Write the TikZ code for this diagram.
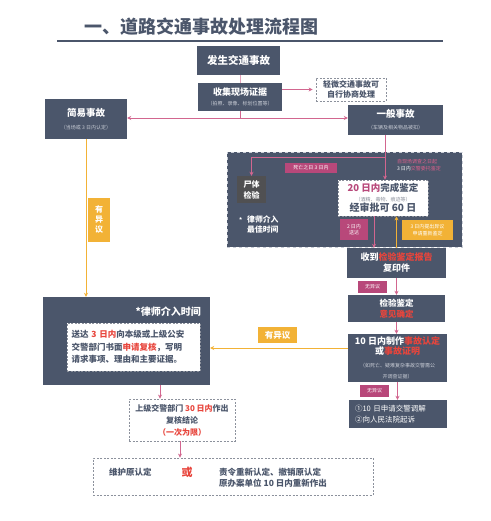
\documentclass[tikz,border=0pt]{standalone}
\usepackage{fontspec}
\setmainfont{Noto Sans CJK SC}
\usetikzlibrary{arrows.meta}
\definecolor{slate}{HTML}{4B566B}
\definecolor{pline}{HTML}{D2668F}
\definecolor{plab}{HTML}{B8487A}
\definecolor{redt}{HTML}{E8453C}
\definecolor{yel}{HTML}{F2B236}
\definecolor{dgray}{HTML}{505052}
\definecolor{dashc}{HTML}{8C919C}
\definecolor{ptxt}{HTML}{E0608C}
\definecolor{subc}{HTML}{C9CDD6}
\newcommand\myfs[2]{\fontsize{#1}{#2}\selectfont}
\newcommand\subl[1]{{\myfs{5}{6}\mdseries\color{subc}#1}}
\tikzset{
  box/.style={fill=slate, text=white, inner sep=0pt, align=center},
  wbox/.style={draw=dashc, dash pattern=on 2pt off 1.5pt, line width=0.8pt, fill=white, text=slate, inner sep=0pt, align=center},
  plabel/.style={fill=plab, text=white, inner sep=0pt, align=center, font=\myfs{5}{6.5}},
  ylabel/.style={fill=yel, text=white, inner sep=0pt, align=center},
  pcon/.style={draw=pline, line width=0.9pt, -{Stealth[length=4pt,width=4pt]}},
  ycon/.style={draw=yel, line width=0.9pt, -{Stealth[length=4pt,width=4pt]}},
}
\begin{document}
\begin{tikzpicture}[x=1pt,y=-1pt]
\useasboundingbox (0,0) rectangle (490,521);
% title
\node[text=slate, font=\myfs{18}{20}\bfseries] (title) at (201.5,27) {一、道路交通事故处理流程图};
\draw[slate, line width=2.5pt] (57,41) -- (443,41);

% top boxes
\node[box, font=\myfs{10.5}{12}\bfseries, minimum width=83pt, minimum height=29pt] (fasheng) at (238.5,60.5) {发生交通事故};
\node[box, font=\myfs{9}{11}\bfseries, minimum width=84pt, minimum height=28pt] (shouji) at (240,97) {收集现场证据\\[-1pt]\subl{（拍照、录像、标划位置等）}};
\node[wbox, font=\myfs{8}{10}\bfseries, minimum width=70pt, minimum height=23pt] (qingwei) at (351,89.5) {轻微交通事故可\\自行协商处理};
\node[box, font=\myfs{9.5}{12}\bfseries, minimum width=82pt, minimum height=40pt] (jianyi) at (86,119) {简易事故\\[1pt]\subl{（当场或 3 日内认定）}};
\node[box, font=\myfs{9.5}{12}\bfseries, minimum width=95pt, minimum height=30pt] (yiban) at (395.5,120) {一般事故\\[0pt]\subl{（车辆及相关物品被扣）}};

\draw[draw=pline!60, line width=0.9pt] (shouji.north) -- (shouji.north |- fasheng.south);
\coordinate (split) at (240,118);
\draw[draw=pline, line width=0.9pt] (shouji.south) -- (split);
\draw[pcon] (split) -- (split -| jianyi.east);
\draw[pcon] (split) -- (split -| yiban.west);
\draw[pcon, shorten >=3pt] (shouji.east |- qingwei) -- (qingwei.west);

% panel
\node[fill=slate, draw=subc, dashed, line width=0.6pt, minimum width=235pt, minimum height=95pt, inner sep=0pt] (panel) at (344.5,199.5) {};
\coordinate (ybtop) at (385,135);
\coordinate (s2) at (385,157);
\node[fill=dgray, text=white, font=\myfs{8}{11}\bfseries, align=center, minimum width=29pt, minimum height=27pt, inner sep=0pt] (shiti) at (251.5,189.5) {尸体\\检验};
\node[plabel, minimum width=52pt, minimum height=10pt] (death) at (311,168) {死亡之日 3 日内};
\node[text=white, font=\myfs{7.8}{9.5}\bfseries, align=left, inner sep=0pt, anchor=west] (besttime) at (239,224.5) {\makebox[8pt][l]{\myfs{6}{7}*}律师介入\\\hspace*{8pt}最佳时间};
\node[text=ptxt, font=\myfs{5}{7}, align=left, inner sep=0pt] (zixian) at (419,165.5) {自现场调查之日起\\{\color{white}3 日内}交警委托鉴定};
\node[wbox, font=\myfs{9.5}{11}\bfseries, minimum width=90pt, minimum height=36pt] (jianding) at (383,198) {{\color{plab}20 日内}完成鉴定\\[-1pt]{\myfs{5}{6}\mdseries\color{dashc}（酒精、毒物、痕迹等）}\\[-1pt]{\myfs{10}{12}\bfseries 经审批可 60 日}};
\node[plabel, minimum width=28pt, minimum height=21pt] (songda) at (354,229.5) {2 日内\\送达};
\node[ylabel, font=\myfs{5}{6.5}, minimum width=51pt, minimum height=20pt] (chongxin) at (427.5,230) {3 日内提出异议\\申请重新鉴定};

\draw[draw=pline, line width=0.9pt] (ybtop) -- (s2);
\draw[pcon] (s2) -| (shiti.north);
\draw[pcon] (s2) -- (s2 |- jianding.north);

% right column
\node[box, font=\myfs{9}{11}\bfseries, minimum width=99pt, minimum height=30pt] (shoudao) at (396.5,263) {收到{\color{redt}检验鉴定报告}\\复印件};
\node[box, font=\myfs{8.5}{10.5}\bfseries, minimum width=97pt, minimum height=27pt] (jianyan) at (396.5,308.5) {检验鉴定\\{\color{redt}意见确定}};
\node[box, font=\myfs{9}{10.5}\bfseries, minimum width=99pt, minimum height=48pt] (shizhi) at (397.5,358) {10 日内制作{\color{redt}事故认定}\\或{\color{redt}事故证明}\\[2pt]{\myfs{5}{6}\mdseries\color{subc}（如死亡、疑难复杂事故交警需公}\\[1pt]{\myfs{5}{6}\mdseries\color{subc}开调查证据）}};
\node[box, font=\myfs{7.5}{11}, align=left, minimum width=98pt, minimum height=28pt, text width=86pt] (last) at (398,414) {①10 日申请交警调解\\②向人民法院起诉};

\coordinate (dn1) at ([xshift=-22.5pt]shoudao.north);
\draw[pcon] (dn1 |- jianding.south) -- (dn1);
\draw[ycon] (shoudao.north) -- (shoudao.north |- jianding.south);
\draw[pcon] (shoudao.south) -- (jianyan.north);
\node[plabel, minimum width=29pt, minimum height=12pt] (wu1) at (372.5,287) {无异议};
\draw[pcon] (jianyan.south) -- (jianyan.south |- shizhi.north);
\draw[pcon] (shizhi.south) -- (shizhi.south |- last.north);
\node[plabel, minimum width=29pt, minimum height=12pt] (wu2) at (374.5,391) {无异议};

% left
\node[box, minimum width=167pt, minimum height=88pt] (lawyer) at (126.5,341) {};
\node[text=white, font=\myfs{10}{12}\bfseries, anchor=east, inner sep=0pt] (lawtitle) at (201,312) {*律师介入时间};
\node[wbox, minimum width=133pt, minimum height=48pt, text width=124pt, align=left, font=\myfs{8.5}{12.5}\bfseries] (inner) at (133.5,347) {送达 {\color{redt}3 日内}向本级或上级公安\\交警部门书面{\color{redt}申请复核}，写明\\请求事项、理由和主要证据。};

\draw[ycon] (jianyi.south) -- (jianyi.south |- lawyer.north);
\node[ylabel, font=\myfs{8}{10}\bfseries, minimum width=22pt, minimum height=44pt] (yiyiv) at (99,220) {有\\异\\议};
\coordinate (hy) at ([yshift=10pt]shizhi.west);
\draw[ycon] (hy) -- (hy -| lawyer.east);
\node[ylabel, font=\myfs{8.5}{10}\bfseries, minimum width=39pt, minimum height=16pt] (yiyih) at (277.5,335) {有异议};

\node[wbox, minimum width=106pt, minimum height=42pt, font=\myfs{8}{12}\bfseries] (fuhe) at (182,420) {上级交警部门 {\color{redt}30 日内}作出\\复核结论\\{\color{redt}（一次为限）}};
\coordinate (ld) at ([xshift=33.5pt]lawyer.south);
\draw[pcon] (ld) -- (ld |- fuhe.north);

\node[wbox, minimum width=280pt, minimum height=37pt] (final) at (233,476.5) {};
\coordinate (fd) at ([xshift=-2pt]fuhe.south);
\draw[pcon] (fd) -- (fd |- final.north);
\node[text=slate, font=\myfs{8.5}{10}\bfseries, anchor=west, inner sep=0pt] (weihu) at (109,472) {维护原认定};
\node[text=redt, font=\myfs{11}{12}\bfseries, inner sep=0pt] (huo) at (187,472) {或};
\node[text=slate, font=\myfs{8.5}{11}\bfseries, anchor=west, align=left, inner sep=0pt] (zeling) at (219,477.5) {责令重新认定、撤销原认定\\原办案单位 10 日内重新作出};
\end{tikzpicture}
\end{document}
